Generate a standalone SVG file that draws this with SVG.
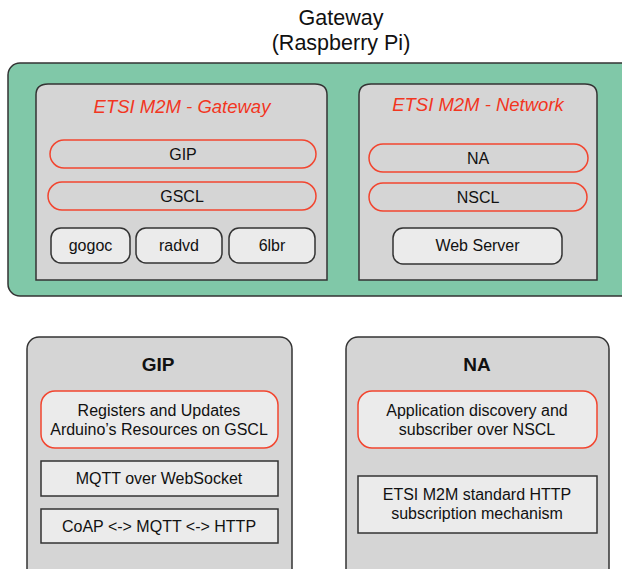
<svg xmlns="http://www.w3.org/2000/svg" width="622" height="569" viewBox="0 0 622 569">
<style>
text{font-family:"Liberation Sans",Arial,sans-serif;fill:#111;text-anchor:middle}
.h{font-size:21.5px}
.t{font-size:18.5px;font-style:italic;fill:#f2361f}
.l{font-size:16px}
.b{font-size:19px;font-weight:bold}
.panel{fill:#d5d5d5;stroke:#333;stroke-width:1.5}
.pill{fill:#d5d5d5;stroke:#f2452f;stroke-width:1.5}
.soft{fill:#ebebeb;stroke:#333;stroke-width:1.5}
.redsoft{fill:#ebebeb;stroke:#f2452f;stroke-width:1.5}
</style>
<g id="title">
<text class="h" x="341" y="25">Gateway</text>
<text class="h" x="341" y="50">(Raspberry Pi)</text>
</g>
<g id="gateway">
<rect x="8" y="63" width="625" height="233" rx="12" fill="#80c8a8" stroke="#333" stroke-width="1.5"/>
</g>
<g id="etsi-gateway">
<path class="panel" d="M36 280 V95 Q36 84 48 84 H315 Q327 84 327 95 V280 Z"/>
<text class="t" x="182" y="113">ETSI M2M - Gateway</text>
</g>
<g id="gip-pill"><rect class="pill" x="50" y="140" width="266" height="28" rx="14"/><text class="l" x="183" y="160">GIP</text></g>
<g id="gscl-pill"><rect class="pill" x="48" y="182" width="268" height="28" rx="14"/><text class="l" x="182" y="202">GSCL</text></g>
<g id="gogoc"><rect class="soft" x="51" y="228" width="79" height="35" rx="10"/><text class="l" x="90.5" y="251">gogoc</text></g>
<g id="radvd"><rect class="soft" x="136" y="228" width="86" height="35" rx="10"/><text class="l" x="179" y="251">radvd</text></g>
<g id="6lbr"><rect class="soft" x="229" y="228" width="86" height="35" rx="10"/><text class="l" x="272" y="251">6lbr</text></g>
<g id="etsi-network">
<path class="panel" d="M359 280 V95 Q359 84 371 84 H585 Q597 84 597 95 V280 Z"/>
<text class="t" x="478" y="111">ETSI M2M - Network</text>
</g>
<g id="na-pill"><rect class="pill" x="369" y="144" width="219" height="28" rx="14"/><text class="l" x="478" y="164">NA</text></g>
<g id="nscl-pill"><rect class="pill" x="369" y="183" width="218" height="28" rx="14"/><text class="l" x="478" y="203">NSCL</text></g>
<g id="web-server"><rect class="soft" x="393" y="228" width="169" height="36" rx="10"/><text class="l" x="477.5" y="251">Web Server</text></g>
<g id="gip-detail">
<rect class="panel" x="27" y="337" width="265" height="250" rx="12"/>
<text class="b" x="158" y="371">GIP</text>
</g>
<g id="gip-registers"><rect class="redsoft" x="41" y="391" width="237" height="57" rx="14"/><text class="l" x="159" y="416">Registers and Updates</text><text class="l" x="159" y="435">Arduino’s Resources on GSCL</text></g>
<g id="gip-mqtt"><rect class="soft" x="41" y="461" width="237" height="35"/><text class="l" x="159" y="484">MQTT over WebSocket</text></g>
<g id="gip-coap"><rect class="soft" x="41" y="509" width="237" height="34"/><text class="l" x="159" y="532">CoAP &lt;-&gt; MQTT &lt;-&gt; HTTP</text></g>
<g id="na-detail">
<rect class="panel" x="346" y="337" width="263" height="250" rx="12"/>
<text class="b" x="477" y="371">NA</text>
</g>
<g id="na-discovery"><rect class="redsoft" x="358" y="391" width="239" height="57" rx="14"/><text class="l" x="477" y="416">Application discovery and</text><text class="l" x="477" y="435">subscriber over NSCL</text></g>
<g id="na-http"><rect class="soft" x="358" y="476" width="239" height="57"/><text class="l" x="477" y="500">ETSI M2M standard HTTP</text><text class="l" x="477" y="519">subscription mechanism</text></g>
<g id="connectors"></g>
</svg>
